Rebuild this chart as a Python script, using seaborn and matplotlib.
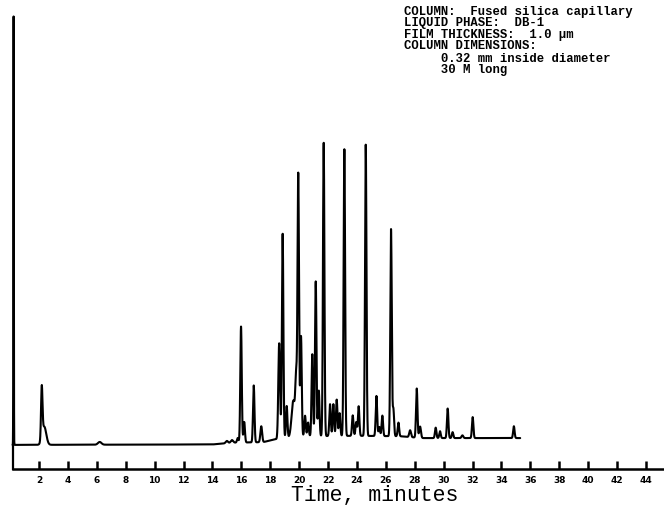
import numpy as np
import pandas as pd
import matplotlib
matplotlib.use("Agg")
import matplotlib.pyplot as plt
import seaborn as sns

# Peak table: retention time (min), height above baseline (% full scale), width (sigma, min)
peak_times = [0.24, 2.19, 2.36, 6.2, 15.0, 15.35, 15.75,
              15.98, 16.2, 16.86, 17.38, 18.62, 18.86, 19.14, 19.6, 19.8,
              19.94, 20.13, 20.41, 20.62, 20.91, 21.15, 21.36, 21.70,
              22.14, 22.37, 22.60, 22.80, 23.13, 23.71, 23.95, 24.12,
              24.61, 25.35, 25.55, 25.76, 26.36, 26.52, 26.87, 27.68,
              28.14, 28.37, 29.45, 29.75, 30.28, 30.62, 31.3, 32.01, 34.86]
peak_heights = [95.0, 11.2, 4.0, 0.6, 0.5, 0.6, 1.0,
                25.5, 4.5, 12.5, 3.5, 21.0, 45.0, 7.0, 8.0, 12.0,
                57.0, 22.0, 4.5, 3.0, 18.0, 34.0, 10.0, 64.5,
                7.0, 7.0, 8.0, 5.0, 63.0, 4.5, 3.0, 6.5,
                64.0, 8.8, 2.0, 4.5, 45.5, 6.0, 3.0, 1.5,
                10.8, 2.5, 2.3, 1.5, 6.5, 1.3, 0.6, 4.6, 2.6]
peak_sigmas = [0.015, 0.05, 0.14, 0.12, 0.08, 0.08, 0.05,
               0.05, 0.05, 0.05, 0.06, 0.06, 0.05, 0.05, 0.12, 0.06,
               0.05, 0.05, 0.05, 0.05, 0.05, 0.05, 0.05, 0.05,
               0.05, 0.05, 0.05, 0.05, 0.05, 0.05, 0.05, 0.05,
               0.05, 0.05, 0.05, 0.05, 0.05, 0.05, 0.05, 0.06,
               0.05, 0.06, 0.05, 0.05, 0.05, 0.05, 0.06, 0.05, 0.05]

# Baseline drift of the detector signal
baseline_times = [0.17, 14.0, 15.5, 17.5, 18.3, 20.0, 24.0, 27.0, 28.5, 35.3]
baseline_levels = [5.3, 5.4, 5.8, 5.9, 6.5, 7.2, 7.3, 7.2, 6.8, 6.8]

run_start, run_end = 0.17, 35.3

tick_values = list(range(2, 46, 2))
tick_labels = [str(v) for v in tick_values]

conditions = [
    "COLUMN:  Fused silica capillary",
    "LIQUID PHASE:  DB-1",
    "FILM THICKNESS:  1.0 \u03bcm",
    "COLUMN DIMENSIONS:",
    "     0.32 mm inside diameter",
    "     30 M long",
]

# Detector trace from the peak table
t = np.arange(run_start, run_end, 0.004)
signal = np.interp(t, baseline_times, baseline_levels)
for rt, h, s in zip(peak_times, peak_heights, peak_sigmas):
    signal = signal + h * np.exp(-0.5 * ((t - rt) / s) ** 2)
trace = pd.DataFrame({"time": t, "response": signal})

sns.set_theme(style="white")
plt.rcParams["font.family"] = ["DejaVu Sans"]

fig = plt.figure(figsize=(6.64, 5.06), dpi=100)
ax = fig.add_axes([0, 0, 1, 1])

sns.lineplot(data=trace, x="time", y="response", ax=ax, color="black",
             linewidth=1.5, estimator=None, sort=False)

ax.set_xlim(-0.70, 45.25)
ax.set_ylim(-7.91, 103.3)

for side in ("top", "right"):
    ax.spines[side].set_visible(False)
ax.spines["bottom"].set_position(("data", 0))
ax.spines["bottom"].set_bounds(run_start, 45.25)
ax.spines["bottom"].set_linewidth(1.8)
ax.spines["bottom"].set_color("black")
ax.spines["left"].set_position(("data", run_start))
ax.spines["left"].set_bounds(0, baseline_levels[0])
ax.spines["left"].set_linewidth(1.6)
ax.spines["left"].set_color("black")

ax.set_yticks([])
ax.set_xticks(tick_values)
ax.set_xticklabels(tick_labels, fontweight="bold", fontsize=6.5)
ax.tick_params(axis="x", direction="in", length=6, width=1.8, pad=4.5,
               colors="black", bottom=True)
ax.set_xlabel("")
ax.set_ylabel("")

fig.text(375 / 664, 1 - 501.5 / 506, "Time, minutes", family="Liberation Mono",
         fontsize=15.5, ha="center", va="baseline", color="black")

line_baselines = [15, 26.3, 37.6, 49, 61.5, 72.8]
for text, yb in zip(conditions, line_baselines):
    fig.text(404 / 664, 1 - yb / 506, text, family=["Liberation Mono", "DejaVu Sans"],
             fontsize=8.8, fontweight="bold", ha="left", va="baseline", color="black")

fig.savefig("out.png", dpi=100)
